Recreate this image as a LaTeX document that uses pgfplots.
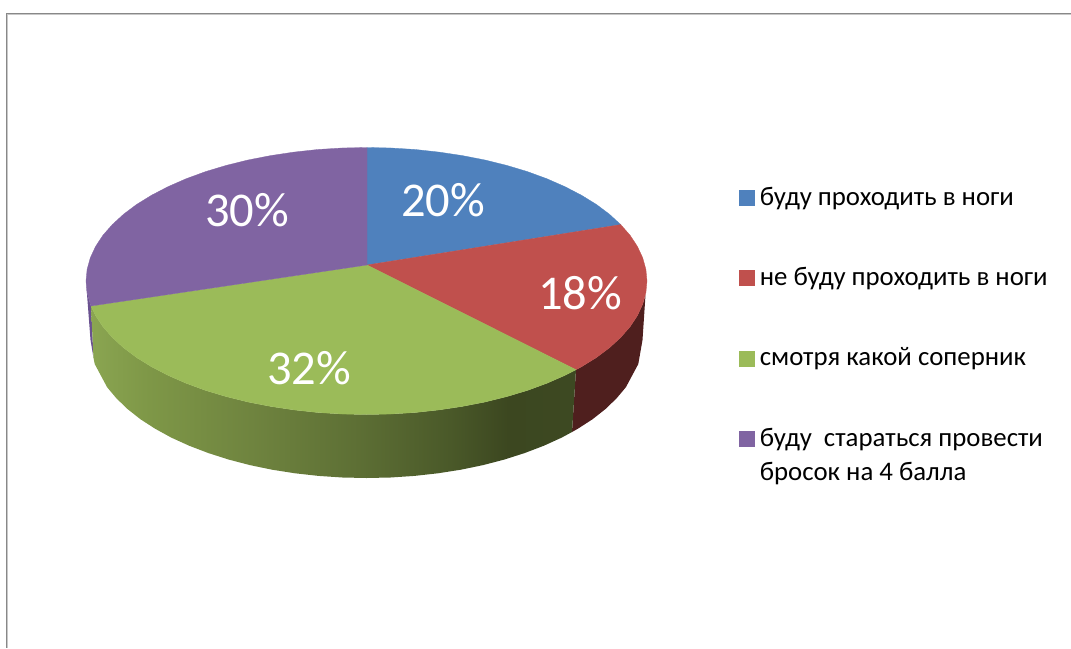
\documentclass[border=0pt]{standalone}
\usepackage{fontspec}
\setmainfont{Carlito}
\usepackage{pgfplots}
\pgfplotsset{compat=1.18}

\definecolor{sliceblue}{HTML}{4F81BD}
\definecolor{slicered}{HTML}{C0504D}
\definecolor{slicegreen}{HTML}{9BBB59}
\definecolor{slicepurple}{HTML}{8064A2}
\definecolor{sidered}{HTML}{4F1F1E}
\definecolor{sidepurple}{HTML}{6A5190}
\definecolor{framedark}{HTML}{888888}
\definecolor{framelight}{HTML}{C8C8C8}
\definecolor{rimA}{HTML}{8AA551}
\definecolor{rimB}{HTML}{7E9747}
\definecolor{rimC}{HTML}{6F843F}
\definecolor{rimD}{HTML}{5E7035}
\definecolor{rimE}{HTML}{4A5929}
\definecolor{rimF}{HTML}{3C4720}
\definecolor{rimG}{HTML}{3D4922}

% Rim of the green slice: lit on the left, falling into shadow on the right
\pgfdeclarehorizontalshading{greenrim}{100bp}{
  color(0bp)=(rimA);
  color(25bp)=(rimA);
  color(31bp)=(rimB);
  color(41.5bp)=(rimC);
  color(52bp)=(rimD);
  color(62bp)=(rimE);
  color(68bp)=(rimF);
  color(75bp)=(rimG);
  color(100bp)=(rimG)}

\newcommand{\legstrut}{\hspace*{5.5pt}\rule[-40pt]{0pt}{80pt}}

\begin{document}
\begin{tikzpicture}
\path[use as bounding box] (0pt,0pt) rectangle (1071pt,648pt);
\begin{axis}[
  at={(0pt,0pt)}, anchor=south west,
  scale only axis, width=1071pt, height=648pt,
  xmin=0, xmax=1071, ymin=0, ymax=648, y dir=reverse,
  axis lines=none, ticks=none,
  legend image code/.code={\fill[#1] (0pt,0pt) rectangle (15pt,15pt);},
  legend style={
    at={(axis cs:739,165)}, anchor=north west,
    draw=none, fill=none, inner sep=0pt, outer sep=0pt,
    font=\fontsize{26.8}{34}\selectfont,
    nodes={inner sep=0pt, outer sep=0pt, anchor=base west},
    row sep=38.9pt,
  },
]

% Outer frame, running off the top right and bottom left
\addplot[forget plot, color=framedark, line width=1pt]
  coordinates {(1071,13.5) (6.5,13.5) (6.5,648)};
\addplot[forget plot, color=framelight, line width=1pt]
  coordinates {(1071,14.5) (7.5,14.5) (7.5,648)};

% Side walls of the disc
\addplot[forget plot, draw=none, fill=sidepurple] coordinates {
  (86,281) (87.1,292.6) (90.3,304.2) (91,306) (93.5,358) (90.5,340)};
\addplot[forget plot, draw=none, fill=sidered] coordinates {
  (576,369.7) (581.4,366.8) (596.3,357.6) (609.4,347.8) (620.7,337.4) (630.1,326.7)
  (637.4,315.6) (642.7,304.2) (645.5,295) (642.5,340) (638.3,364) (625.9,387.2)
  (616.6,398.3) (605.5,409) (592.6,419.2) (577.9,428.7) (572,432)};
\addplot[forget plot, draw=none, shading=greenrim] coordinates {
  (91,306) (95.6,315.6) (102.9,326.7) (112.3,337.4) (123.6,347.8) (136.7,357.6)
  (151.6,366.8) (168.2,375.4) (186.2,383.3) (205.6,390.4) (226.2,396.6) (248,402)
  (270.6,406.4) (293.9,409.9) (317.8,412.5) (342,414) (366.5,414.5) (391,414)
  (415.2,412.5) (439.1,409.9) (462.4,406.4) (485,402) (506.8,396.6) (527.4,390.4)
  (546.8,383.3) (564.8,375.4) (576,369.7) (572,432) (561.7,437.6) (543.9,445.7)
  (524.8,453) (504.5,459.5) (483.1,465.1) (460.9,469.7) (437.9,473.3) (414.4,475.9)
  (390.6,477.5) (366.5,478) (342.4,477.5) (318.6,475.9) (295.1,473.3) (272.1,469.7)
  (249.9,465.1) (228.5,459.5) (208.2,453) (189.1,445.7) (171.3,437.6) (155.1,428.7)
  (140.4,419.2) (127.5,409) (116.4,398.3) (107.1,387.2) (94.7,364) (93.5,358)};

% Top faces of the four slices
\addplot[fill=sliceblue, draw=sliceblue, line width=0.3pt] coordinates {
  (367,265) (367,147.5) (391,148) (415.2,149.5) (439.1,152.1) (462.4,155.6) (485,160)
  (506.8,165.4) (527.4,171.6) (546.8,178.7) (564.8,186.6) (581.4,195.2) (596.3,204.4)
  (609.4,214.2) (620.7,224.6) (367,265)};
\addlegendentry{\legstrut буду проходить в ноги}

\addplot[fill=slicered, draw=slicered, line width=0.3pt] coordinates {
  (367,265) (620.7,224.6) (630.1,235.3) (637.4,246.4) (642.7,257.8) (645.9,269.4)
  (647,281) (645.9,292.6) (642.7,304.2) (637.4,315.6) (630.1,326.7) (620.7,337.4)
  (609.4,347.8) (596.3,357.6) (581.4,366.8) (576,369.7) (367,265)};
\addlegendentry{\legstrut не буду проходить в ноги}

\addplot[fill=slicegreen, draw=slicegreen, line width=0.3pt] coordinates {
  (367,265) (576,369.7) (564.8,375.4) (546.8,383.3) (527.4,390.4) (506.8,396.6) (485,402)
  (462.4,406.4) (439.1,409.9) (415.2,412.5) (391,414) (366.5,414.5) (342,414)
  (317.8,412.5) (293.9,409.9) (270.6,406.4) (248,402) (226.2,396.6) (205.6,390.4)
  (186.2,383.3) (168.2,375.4) (151.6,366.8) (136.7,357.6) (123.6,347.8) (112.3,337.4)
  (102.9,326.7) (95.6,315.6) (91,306) (367,265)};
\addlegendentry{\legstrut смотря какой соперник}

\addplot[fill=slicepurple, draw=slicepurple, line width=0.3pt] coordinates {
  (367,265) (91,306) (90.3,304.2) (87.1,292.6) (86,281) (87.1,269.4) (90.3,257.8)
  (95.6,246.4) (102.9,235.3) (112.3,224.6) (123.6,214.2) (136.7,204.4) (151.6,195.2)
  (168.2,186.6) (186.2,178.7) (205.6,171.6) (226.2,165.4) (248,160) (270.6,155.6)
  (293.9,152.1) (317.8,149.5) (342,148) (367,147.5) (367,265)};
\addlegendentry{\legstrut\begin{tabular}[t]{@{}l@{}}буду\ \ стараться провести\\бросок на 4 балла\end{tabular}}

% Share labels on the slices
\node[text=white, font=\fontsize{48.5}{48.5}\selectfont] at (axis cs:443,200) {20\%};
\node[text=white, font=\fontsize{48.5}{48.5}\selectfont] at (axis cs:580,293) {18\%};
\node[text=white, font=\fontsize{48.5}{48.5}\selectfont] at (axis cs:309,368) {32\%};
\node[text=white, font=\fontsize{48.5}{48.5}\selectfont] at (axis cs:247,210) {30\%};

\end{axis}
\end{tikzpicture}
\end{document}
